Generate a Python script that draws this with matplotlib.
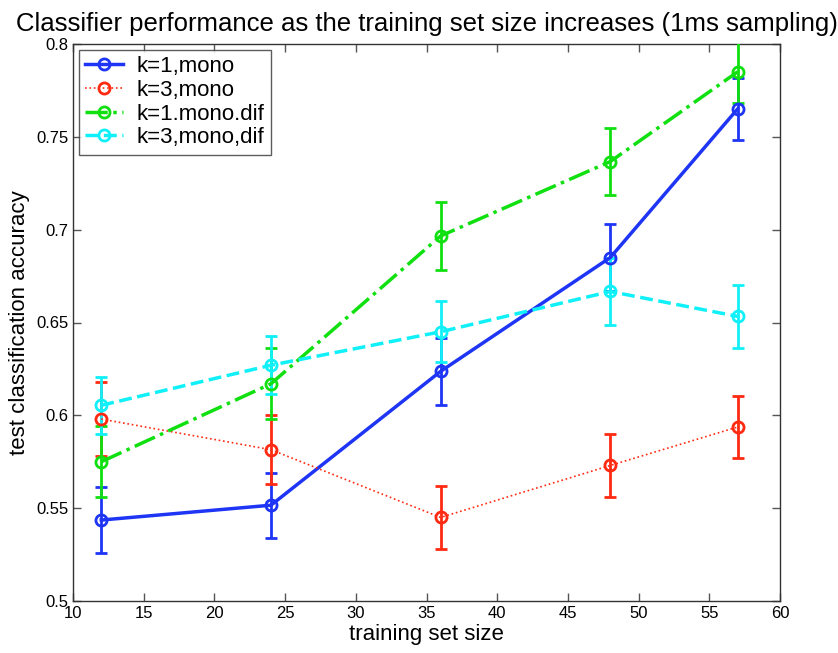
import matplotlib
matplotlib.use("Agg")
import matplotlib.pyplot as plt

plt.rcParams['font.family'] = ['Liberation Sans', 'DejaVu Sans']

x = [12, 24, 36, 48, 57]

labels = ["k=1,mono", "k=3,mono", "k=1.mono.dif", "k=3,mono,dif"]

k1_mono = [0.5436, 0.5516, 0.6237, 0.685, 0.765]
k1_mono_err = [0.018, 0.0175, 0.018, 0.018, 0.0165]

k3_mono = [0.598, 0.5815, 0.545, 0.573, 0.5937]
k3_mono_err = [0.020, 0.0185, 0.017, 0.017, 0.0165]

k1_dif = [0.575, 0.617, 0.6966, 0.7367, 0.785]
k1_dif_err = [0.0192, 0.019, 0.0185, 0.018, 0.017]

k3_dif = [0.6054, 0.627, 0.645, 0.6667, 0.6533]
k3_dif_err = [0.0153, 0.0155, 0.0165, 0.018, 0.017]

yticks = [0.5, 0.55, 0.6, 0.65, 0.7, 0.75, 0.8]
ytick_labels = ["0.5", "0.55", "0.6", "0.65", "0.7", "0.75", "0.8"]
xticks = [10, 15, 20, 25, 30, 35, 40, 45, 50, 55, 60]

series = [
    (k1_mono, k1_mono_err, "#1e35f5", "-", 2.5),
    (k3_mono, k3_mono_err, "#ff2a12", ":", 1.2),
    (k1_dif, k1_dif_err, "#10e010", "-.", 2.5),
    (k3_dif, k3_dif_err, "#10f0f8", "--", 2.5),
]

fig = plt.figure(figsize=(8.38, 6.53), dpi=100)
ax = fig.add_axes([73/838, 1-601/653, 707/838, 557/653])

handles = []
for (vals, err, col, ls, lw), lab in zip(series, labels):
    ax.errorbar(x, vals, yerr=err, fmt='none', ecolor=col, elinewidth=2.0,
                capsize=4.5, capthick=2.0, zorder=3)
    h, = ax.plot(x, vals, linestyle=ls, color=col, linewidth=lw, marker='o',
                 markersize=8, markerfacecolor='none', markeredgecolor=col,
                 markeredgewidth=2.0, label=lab, zorder=4)
    handles.append(h)

ax.set_xlim(10, 60)
ax.set_ylim(0.5, 0.8)
ax.set_xticks(xticks)
ax.set_xticklabels([str(t) for t in xticks])
ax.set_yticks(yticks)
ax.set_yticklabels(ytick_labels)
ax.tick_params(direction='in', top=True, right=True, length=6, width=1,
               labelsize=12, colors='#555555', labelcolor='black')
for s in ax.spines.values():
    s.set_color('#333333')
    s.set_linewidth(1.0)

ax.set_xlabel("training set size", fontsize=16, labelpad=2)
ax.set_ylabel("test classification accuracy", fontsize=16, labelpad=4)
ax.set_title("Classifier performance as the training set size increases (1ms sampling)",
             fontsize=18.5, pad=9)

leg = ax.legend(handles=handles, loc='upper left', bbox_to_anchor=(0.008, 0.99),
                fontsize=16, frameon=True, fancybox=False, edgecolor='#333333',
                handlelength=1.7, handletextpad=0.6, borderpad=0.3,
                labelspacing=0.12, borderaxespad=0)
leg.get_frame().set_linewidth(1.0)

fig.savefig("out.png", dpi=100)
